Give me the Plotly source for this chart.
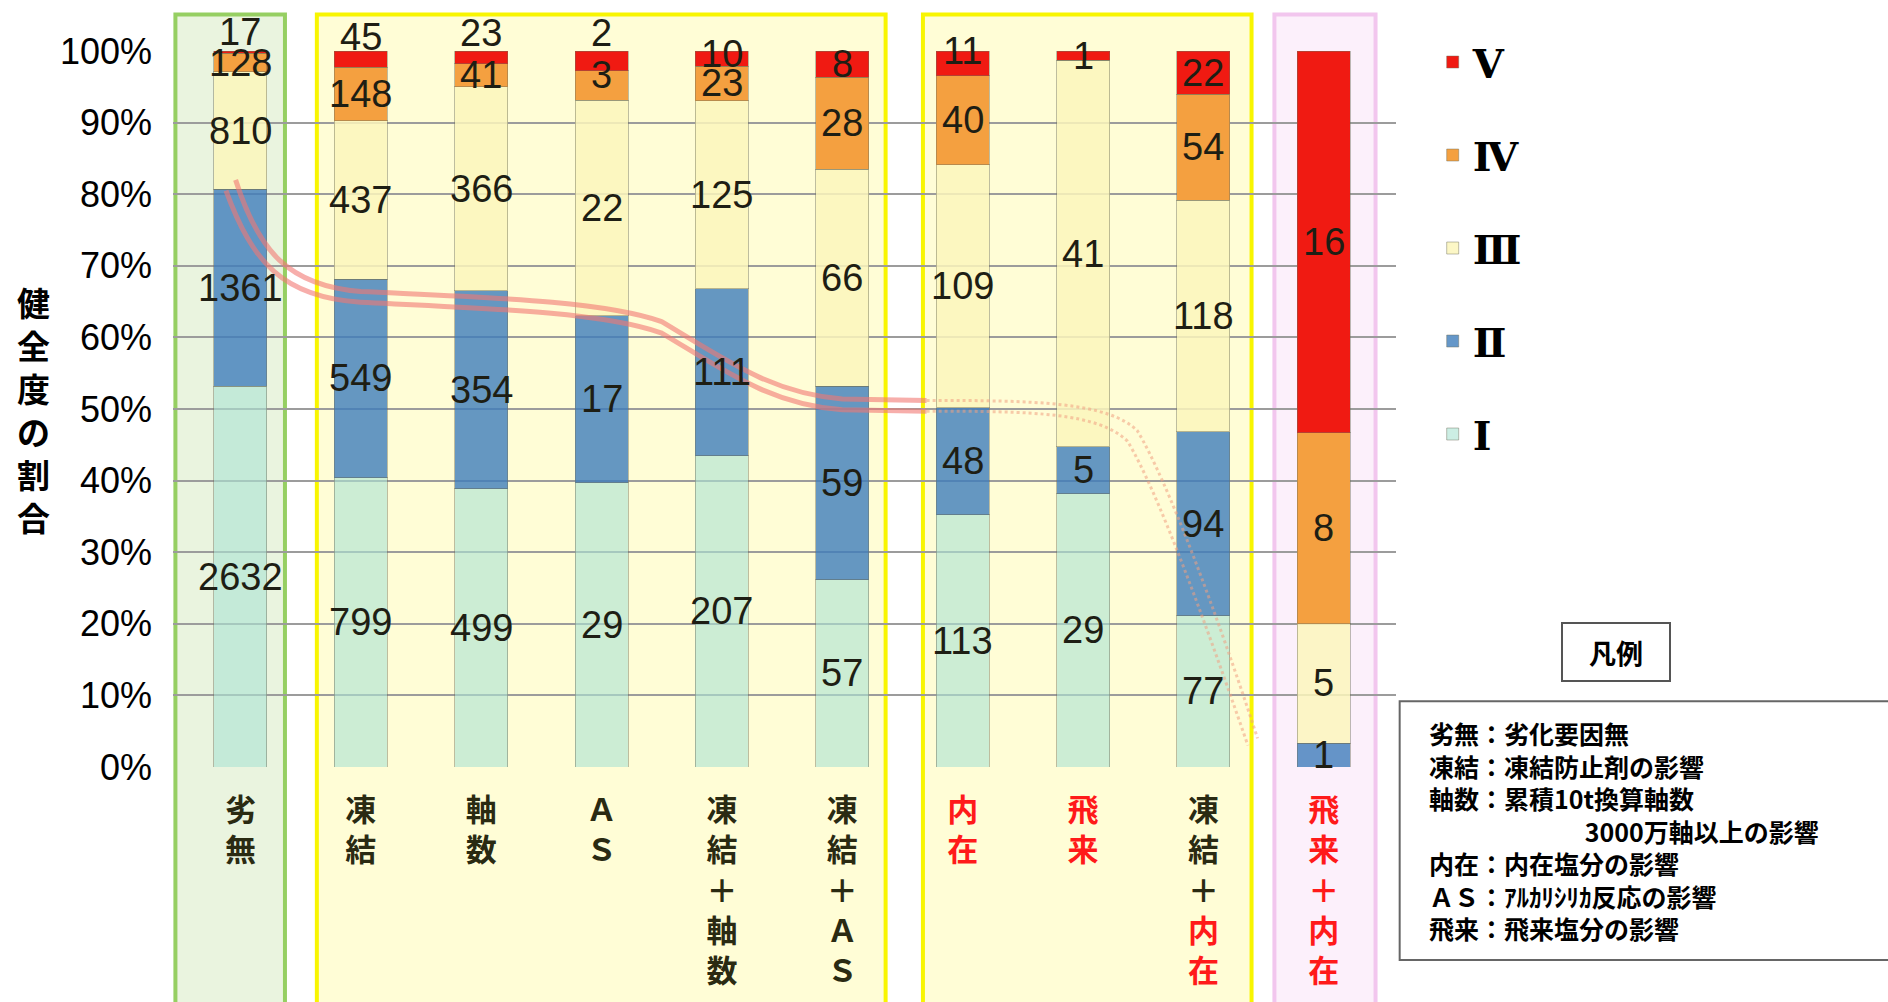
import plotly.graph_objects as go

# ---- data -------------------------------------------------------------
categories = ["劣無", "凍結", "軸数", "AS", "凍結+軸数", "凍結+AS",
              "内在", "飛来", "凍結+内在", "飛来+内在"]
grades = ["Ⅰ", "Ⅱ", "Ⅲ", "Ⅳ", "Ⅴ"]

grade_I = [2632, 799, 499, 29, 207, 57, 113, 29, 77, 0]
grade_II = [1361, 549, 354, 17, 111, 59, 48, 5, 94, 1]
grade_III = [810, 437, 366, 22, 125, 66, 109, 41, 118, 5]
grade_IV = [128, 148, 41, 3, 23, 28, 40, 0, 54, 8]
grade_V = [17, 45, 23, 2, 10, 8, 11, 1, 22, 16]

y_tick_values = [0, 10, 20, 30, 40, 50, 60, 70, 80, 90, 100]
y_tick_labels = ["0%", "10%", "20%", "30%", "40%", "50%",
                 "60%", "70%", "80%", "90%", "100%"]

notes = [
    "劣無：劣化要因無",
    "凍結：凍結防止剤の影響",
    "軸数：累積10t換算軸数",
    "　　　　　　 3000万軸以上の影響",
    "内在：内在塩分の影響",
    "ＡＳ：ｱﾙｶﾘｼﾘｶ反応の影響",
    "飛来：飛来塩分の影響",
]

# ---- styling ----------------------------------------------------------
series = [grade_I, grade_II, grade_III, grade_IV, grade_V]
bar_colors = ["rgba(172,228,212,0.62)", "rgba(62,125,188,0.80)",
              "rgba(252,246,188,0.85)", "#f4a040", "#f01a12"]
salt_words = {"内在", "飛来"}
RED = "#ff1a1a"
DARK = "#2a2a12"
NUM_FONT = "Liberation Sans Narrow, Arial Narrow, Liberation Sans, sans-serif"
JP_FONT = "Noto Sans CJK JP"

# vertical nudges (px) for labels on thin top segments
label_nudge = {(0, 4): 20, (1, 4): 22, (2, 4): 24, (3, 4): 28,
               (3, 3): 10, (4, 4): 5, (6, 4): 12}


def vertical_label(cat):
    """Stack characters vertically; salt-related words drawn in red."""
    parts = cat.split("+")
    all_red = all(p in salt_words for p in parts)
    lines = []
    for k, part in enumerate(parts):
        if k > 0:
            col = RED if all_red else DARK
            lines.append(f"<span style='color:{col}'><b>＋</b></span>")
        col = RED if part in salt_words else DARK
        for ch in part:
            ch = {"A": "Ａ", "S": "Ｓ"}.get(ch, ch)
            lines.append(f"<span style='color:{col}'><b>{ch}</b></span>")
    return "<br>".join(lines)


fig = go.Figure()
for g, (name, vals, col) in enumerate(zip(grades, series, bar_colors)):
    fig.add_trace(go.Bar(
        x=categories, y=vals, name=f"<b>{name}</b>", width=0.44,
        marker=dict(color=col, line=dict(color="rgba(110,110,90,0.45)", width=1)),
        legendgroup=name, legendrank=len(grades) - g, hoverinfo="skip",
    ))

# value labels at the middle of each stacked segment
totals = [sum(s[i] for s in series) for i in range(len(categories))]
annotations = []
for i, cat in enumerate(categories):
    base = 0.0
    for g, vals in enumerate(series):
        share = 100.0 * vals[i] / totals[i]
        if vals[i] > 0:
            annotations.append(dict(
                x=cat, y=base + share / 2, xref="x", yref="y",
                text=str(vals[i]), showarrow=False,
                yshift=label_nudge.get((i, g), 0),
                font=dict(family=NUM_FONT, size=38, color="#1e1e14"),
            ))
        base += share

# y-axis title, stacked vertically
annotations.append(dict(
    x=-0.114, y=0.50, xref="paper", yref="paper", showarrow=False,
    text="<br>".join("<b>" + c + "</b>" for c in "健全度の割合"),
    font=dict(family=JP_FONT, size=33, color="black"),
    xanchor="center", yanchor="middle",
))

# notes heading and notes text
annotations.append(dict(
    x=1.18, y=0.161, xref="paper", yref="paper", showarrow=False,
    text="<b>凡例</b>", width=104, height=54,
    font=dict(family=JP_FONT, size=27, color="black"),
    bordercolor="#555555", borderwidth=2, bgcolor="white",
    xanchor="center", yanchor="middle",
))
annotations.append(dict(
    x=1.0255, y=0.076, xref="paper", yref="paper", showarrow=False,
    text="<br>".join("<b>" + t + "</b>" for t in notes),
    font=dict(family=JP_FONT, size=25, color="black"),
    align="left", xanchor="left", yanchor="top",
))

# group frames behind the bars
frames = [
    (-0.54, 0.37, "#eaf4df", "#96cf62"),
    (0.635, 5.36, "#fffdd6", "#f8f500"),
    (5.67, 8.40, "#fffdd6", "#f8f500"),
    (8.59, 9.43, "#fcf0fb", "#f2c6ee"),
]
shapes = []
for x0, x1, fill, edge in frames:
    shapes.append(dict(
        type="rect", xref="x", yref="paper", x0=x0, x1=x1, y0=-0.36, y1=1.051,
        fillcolor=fill, line=dict(color=edge, width=4), layer="below",
    ))

# notes frame
shapes.append(dict(
    type="rect", xref="paper", yref="paper", x0=1.003, x1=1.42, y0=-0.2696, y1=0.092,
    fillcolor="white", line=dict(color="#666666", width=2), layer="above",
))

# hand-drawn trend guides
guide_solid = [
    "M -0.04 82 C 0.15 72, 0.4 67.2, 1.0 66.4 C 2.0 65.6, 3.0 65.2, 3.5 62.2 "
    "C 4.0 57.2, 4.4 52.2, 5.0 51.4 L 5.7 51.2",
    "M -0.12 80.5 C 0.1 70.5, 0.35 65.6, 1.0 64.9 C 2.0 64.1, 3.0 63.6, 3.5 60.6 "
    "C 4.0 55.6, 4.4 50.6, 5.0 49.9 L 5.7 49.7",
]
for p in guide_solid:
    shapes.append(dict(type="path", xref="x", yref="y", path=p, layer="above",
                       line=dict(color="rgba(242,120,115,0.6)", width=5)))
guide_dotted = [
    "M 5.7 51.2 C 6.6 51.2, 7.2 51.0, 7.45 47.0 C 7.7 40, 8.1 22, 8.45 4",
    "M 5.7 49.7 C 6.6 49.7, 7.12 49.5, 7.37 45.5 C 7.62 38.5, 8.0 21, 8.37 3",
]
for p in guide_dotted:
    shapes.append(dict(type="path", xref="x", yref="y", path=p, layer="above",
                       line=dict(color="rgba(240,160,130,0.55)", width=3, dash="dot")))

fig.update_layout(
    width=1888, height=1002,
    margin=dict(l=173, r=492, t=51, b=235),
    barmode="stack", barnorm="percent", bargap=0.56,
    paper_bgcolor="white", plot_bgcolor="rgba(0,0,0,0)",
    annotations=annotations, shapes=shapes,
    legend=dict(
        x=1.03, y=1.03, xanchor="left", yanchor="top",
        traceorder="grouped", tracegroupgap=38,
        font=dict(family="DejaVu Serif, Liberation Serif, serif", size=40, color="black"),
        bgcolor="rgba(0,0,0,0)",
    ),
    xaxis=dict(
        type="category", range=[-0.56, 9.6],
        tickmode="array", tickvals=categories,
        ticktext=[vertical_label(c) for c in categories],
        tickfont=dict(family=JP_FONT, size=31, color=DARK),
        ticklabelstandoff=22, showgrid=False, showline=False, zeroline=False,
    ),
    yaxis=dict(
        range=[0, 100], tickmode="array",
        tickvals=y_tick_values, ticktext=y_tick_labels,
        tickfont=dict(family=NUM_FONT, size=36, color="black"),
        ticklabelstandoff=20,
        showgrid=True, gridcolor="#9c9c9c", gridwidth=2,
        zeroline=False, showline=False,
    ),
)

fig.write_html("out.html")
